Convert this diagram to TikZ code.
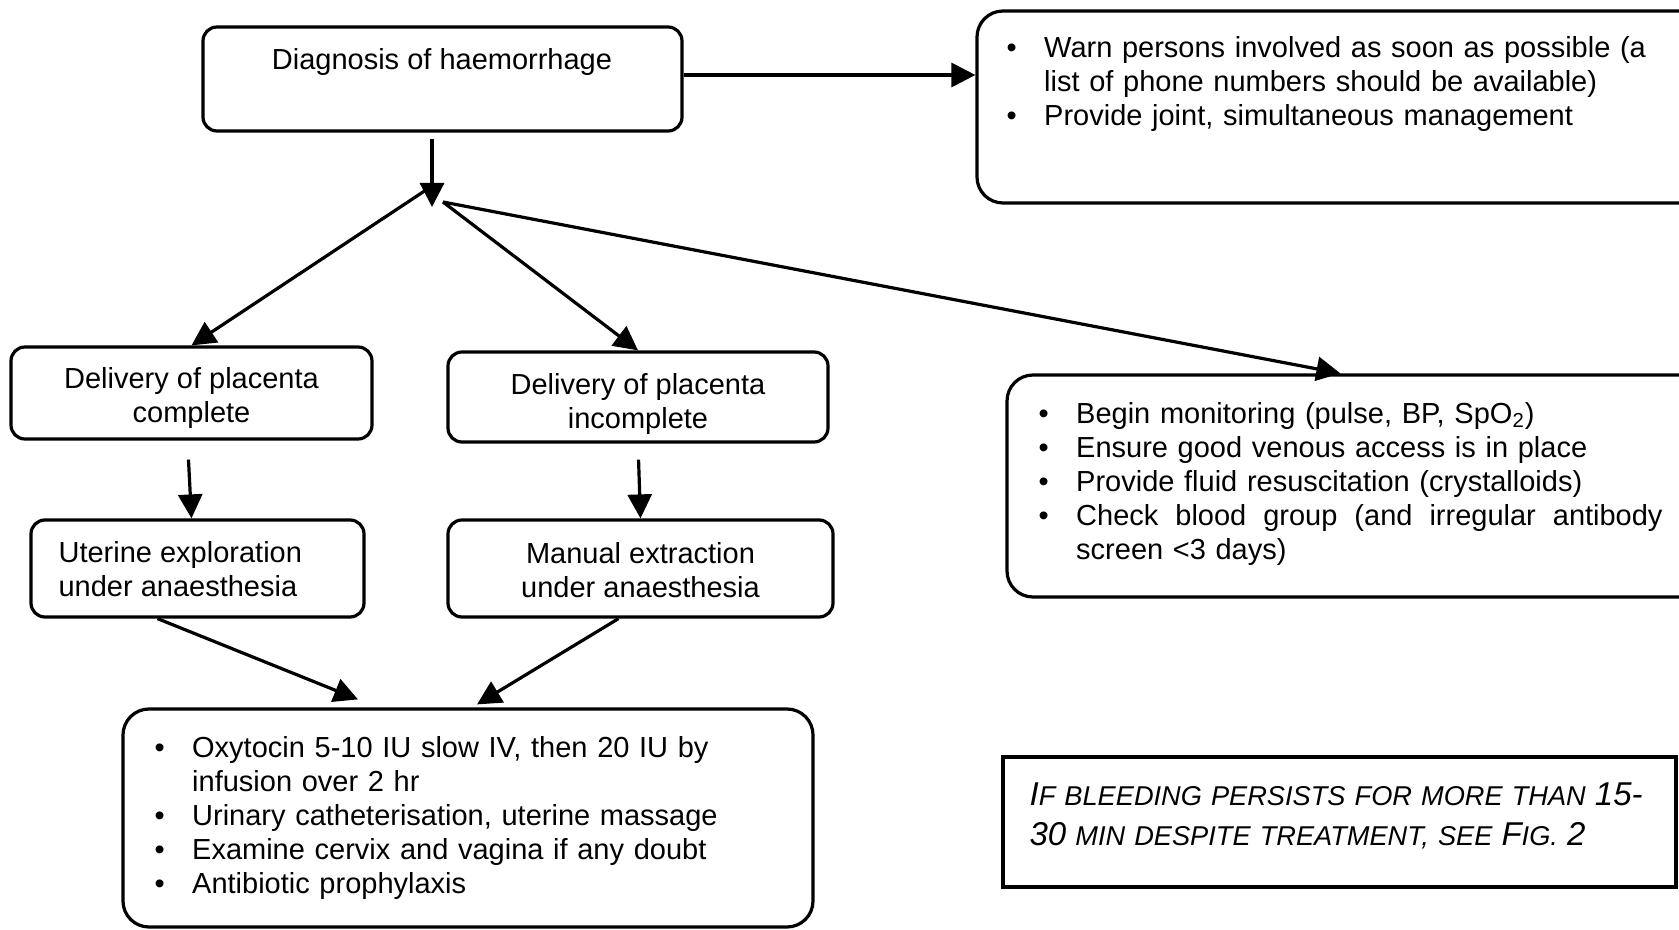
\documentclass[tikz,border=0pt]{standalone}
\usepackage{fontspec}
\setmainfont{Liberation Sans}
\usetikzlibrary{arrows.meta}
\usetikzlibrary{fit}
\newlength\bulind
\setlength\bulind{18.8pt}
\newcommand\bul[1]{\par\noindent\hangindent=\bulind\hangafter=1\makebox[\bulind][l]{\textbullet}#1}
\newcommand\bigsc[1]{{\fontsize{16.5}{20}\selectfont #1}}

\begin{document}
\begin{tikzpicture}[x=0.5pt, y=-0.5pt, line width=1.6pt,
    >={Triangle[length=12pt,width=12pt]},
    box/.style={draw, rounded corners=7pt, inner sep=0pt},
    bigbox/.style={draw, rounded corners=13pt, inner sep=0pt},
    txt/.style={font=\fontsize{14.5}{17}\selectfont, inner sep=0pt, align=center},
    list/.style={font=\fontsize{14.5}{17}\selectfont, inner sep=0pt, anchor=north west, align=left}]
    \clip (0,0) rectangle (1679,930);
    %% boxes
    \node[box, fit={(203,27) (682,131)}] (diag) {};
    \node[bigbox, fit={(977,11) (1710,203)}] (warn) {};
    \node[box, fit={(11,347) (372,439)}] (comp) {};
    \node[box, fit={(448,352) (828,442)}] (incomp) {};
    \node[box, fit={(31,520) (364,617)}] (uter) {};
    \node[box, fit={(448,520) (833,617)}] (manual) {};
    \node[bigbox, fit={(123,709) (813,927)}] (treat) {};
    \node[bigbox, fit={(1007,375) (1710,597)}] (monit) {};
    \node[draw, inner sep=0pt, fit={(1003,757) (1676,887)}] (note) {};
    %% texts
    \node[txt] (diagtxt) at (442,62) {Diagnosis of haemorrhage};
    \node[txt, yshift=-2.7pt] (comptxt) at (comp.center) {Delivery of placenta\\complete};
    \node[txt, yshift=-3.7pt] (incomptxt) at (incomp.center) {Delivery of placenta\\incomplete};
    \node[txt, anchor=west, align=left] (utertxt) at (57,569) {Uterine exploration\\under anaesthesia};
    \node[txt, yshift=-1pt] (manualtxt) at (manual.center) {Manual extraction\\under anaesthesia};
    \node[list, text width=330pt] (warntxt) at (1005,22) {\bul{Warn persons involved as soon as possible (a\newline list of phone numbers should be available)}\bul{Provide joint, simultaneous management}\par};
    \node[list, text width=312pt] (monittxt) at (1037,388) {\bul{Begin monitoring (pulse, BP, SpO\textsubscript{2})}\bul{Ensure good venous access is in place}\bul{Provide fluid resuscitation (crystalloids)}\bul{\makebox[\dimexpr312pt-\bulind][s]{Check\hfill blood\hfill group\hfill (and\hfill irregular\hfill antibody}\newline screen <3 days)}\par};
    \node[list, text width=330pt] (treattxt) at (153,722) {\bul{Oxytocin 5-10 IU slow IV, then 20 IU by\newline infusion over 2 hr}\bul{Urinary catheterisation, uterine massage}\bul{Examine cervix and vagina if any doubt}\bul{Antibiotic prophylaxis}\par};
    \node[list, text width=330pt, font=\fontsize{13.6}{20}\selectfont\itshape] (notetxt) at (1028,781) {\bigsc{I}F BLEEDING PERSISTS FOR MORE THAN \bigsc{15-}\newline \bigsc{30} MIN DESPITE TREATMENT, SEE \bigsc{F}IG. \bigsc{2}};
    %% arrows
    \coordinate (hub) at (432,207);
    \coordinate (hubl) at (426,190);
    \coordinate (hubr) at (443,202);
    \draw[->] ([yshift=2pt]diag.east) -- ([yshift=2pt]diag.east -| warn.west);
    \draw[->, shorten <=3pt] (diag.south -| hub) -- (hub);
    \draw[->] (hubl) -- (comp.north);
    \draw[->] (hubr) -- (incomp.north);
    \draw[->] (hubr) -- ([xshift=167.5pt]monit.north west);
    \draw[->, shorten <=9.5pt] ([xshift=-2pt]comp.south) -- ([xshift=-3pt]uter.north);
    \draw[->, shorten <=8pt] (incomp.south) -- (manual.north);
    \draw[->] ([xshift=-20pt]uter.south) -- ([xshift=-55pt,yshift=4pt]treat.north);
    \draw[->] ([xshift=-11pt]manual.south) -- ([xshift=4.5pt,yshift=1.5pt]treat.north);
\end{tikzpicture}
\end{document}
